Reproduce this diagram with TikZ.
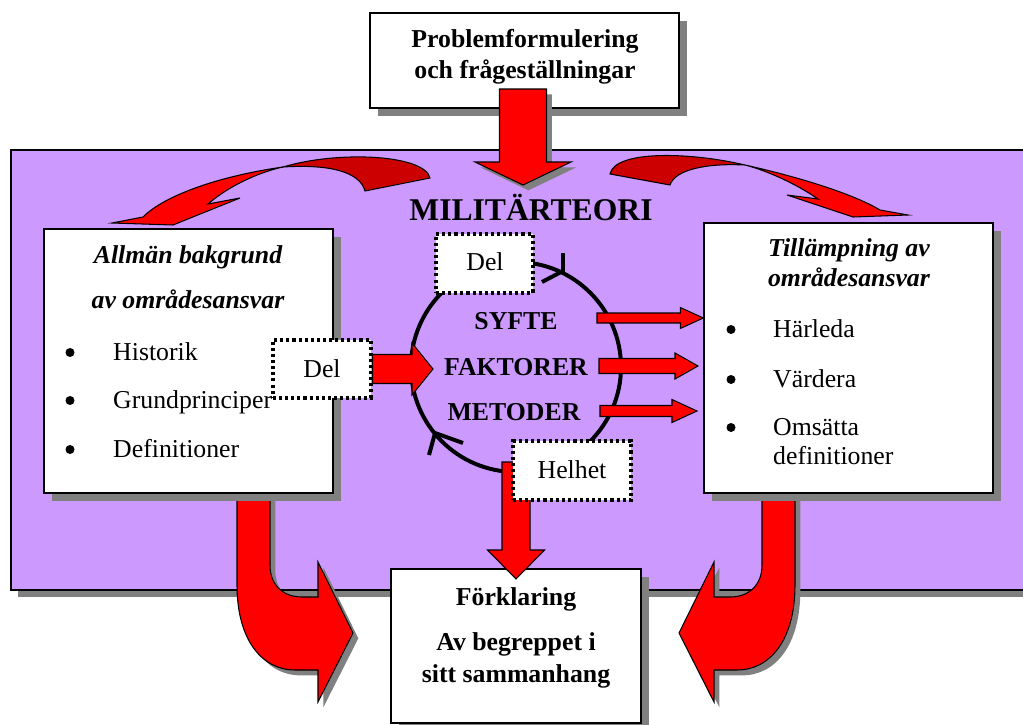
\documentclass[tikz,border=0pt]{standalone}
\usepackage{fontspec}
\setmainfont{Liberation Serif}
\usetikzlibrary{calc,shadows}

\definecolor{panelpurple}{HTML}{CC99FF}
\definecolor{arrowred}{HTML}{FF0000}
\definecolor{backred}{HTML}{CC0000}
\definecolor{shadowgray}{HTML}{808080}

\newdimen\pix \pix=0.03cm

% block arrow pointing right: [style]{from}{to}{shaft half}{head half}{head length}
\newcommand{\rblock}[6][]{%
  \draw[blk,#1] let \p1=(#2), \p2=(#3) in
    (\x1,\y1+#4*\pix) -- (\x2-#6*\pix,\y1+#4*\pix) -- (\x2-#6*\pix,\y1+#5*\pix)
    -- (\x2,\y1) -- (\x2-#6*\pix,\y1-#5*\pix) -- (\x2-#6*\pix,\y1-#4*\pix)
    -- (\x1,\y1-#4*\pix) -- cycle;}
% block arrow pointing down
\newcommand{\dblock}[6][]{%
  \draw[blk,#1] let \p1=(#2), \p2=(#3) in
    (\x1-#4*\pix,\y1) -- (\x1-#4*\pix,\y2+#6*\pix) -- (\x1-#5*\pix,\y2+#6*\pix)
    -- (\x1,\y2) -- (\x1+#5*\pix,\y2+#6*\pix) -- (\x1+#4*\pix,\y2+#6*\pix)
    -- (\x1+#4*\pix,\y1) -- cycle;}

\tikzset{
  box/.style={draw, line width=1.2pt, fill=white, inner sep=0pt,
    drop shadow={shadow xshift=0.24cm, shadow yshift=-0.24cm, fill=shadowgray, opacity=1}},
  delbox/.style={draw, fill=white, inner sep=0pt, line width=2.6pt,
    dash pattern=on 2.6pt off 2.6pt},
  blk/.style={draw, fill=arrowred, line width=0.9pt},
  blkshadow/.style={drop shadow={shadow xshift=0.16cm, shadow yshift=-0.16cm,
    fill=shadowgray, opacity=1}},
  ring/.style={line width=3.4pt},
  dot/.style={circle, fill=black, inner sep=0pt, minimum size=0.27cm},
  txt/.style={font=\fontsize{22}{26}\selectfont, inner sep=0pt, anchor=base},
  head/.style={txt, font=\fontsize{22}{26}\selectfont\bfseries},
  ihead/.style={txt, font=\fontsize{22}{26}\selectfont\bfseries\itshape},
  item/.style={txt, anchor=base west},
}

\begin{document}
\begin{tikzpicture}[x=0.03cm, y=-0.03cm]
  \useasboundingbox (0,0) rectangle (1023,725);
  \clip (0,0) rectangle (1023,725);

  % Purple panel
  \path[draw, line width=1.2pt, fill=panelpurple,
    drop shadow={shadow xshift=0.2cm, shadow yshift=-0.2cm, fill=shadowgray, opacity=1}]
    (11,150) rectangle (1040,590);

  % Problem box and its arrow
  \node[box, minimum width=9.27cm, minimum height=2.85cm] (problem) at (524.5,60.5) {};
  \node[head] (problem1) at (525,47) {Problemformulering};
  \node[head] (problem2) at (525,78) {och frågeställningar};
  \coordinate (topin) at (523,89);
  \coordinate (topout) at (523,185);
  \dblock[blkshadow]{topin}{topout}{23.5}{48}{23}

  \node[head, font=\fontsize{27}{30}\selectfont\bfseries] (teori) at (531,220) {MILITÄRTEORI};

  % Twisted arrows at the top
  \filldraw[fill=backred, line width=0.9pt]
    (283,167) .. controls (340,150) and (425,155) .. (430,178) -- (365,191)
    .. controls (360,172) and (330,164) .. (283,167) -- cycle;
  \filldraw[fill=arrowred, line width=0.9pt]
    (283,167) .. controls (220,176) and (165,195) .. (143,217) -- (112,223)
    -- (173,225) -- (240,198) -- (208,204)
    .. controls (230,185) and (260,172) .. (283,167) -- cycle;
  \filldraw[fill=backred, line width=0.9pt]
    (610,174) .. controls (615,150) and (690,152) .. (745,165)
    .. controls (705,163) and (675,170) .. (670,185) -- cycle;
  \filldraw[fill=arrowred, line width=0.9pt]
    (745,165) .. controls (790,175) and (850,192) .. (880,210) -- (908,215)
    -- (853,217) -- (787,195) -- (818,199)
    .. controls (795,183) and (765,170) .. (745,165) -- cycle;

  % Bent arrows at the bottom
  \draw[blk, blkshadow] (237,480) -- (237,585) .. controls (237,640) and (262,670) .. (295,670)
    -- (318,670) -- (318,702) -- (353,633) -- (318,562) -- (318,597) -- (302,597)
    .. controls (283,597) and (270,585) .. (270,565) -- (270,480) -- cycle;
  \draw[blk, blkshadow] (795,480) -- (795,585) .. controls (795,640) and (770,670) .. (737,670)
    -- (714,670) -- (714,702) -- (679,633) -- (714,562) -- (714,597) -- (730,597)
    .. controls (749,597) and (762,585) .. (762,565) -- (762,480) -- cycle;

  % Förklaring
  \node[box, minimum width=7.5cm, minimum height=4.62cm] (forklaring) at (516,646) {};
  \node[head] (forklaring1) at (516,605) {Förklaring};
  \node[head] (forklaring2) at (516,650) {Av begreppet i};
  \node[head] (forklaring3) at (516,682) {sitt sammanhang};

  % Left box
  \node[box, minimum width=8.67cm, minimum height=7.92cm] (bakgrund) at (188.5,361) {};
  \node[ihead] (bakgrund1) at (188,263) {Allmän bakgrund};
  \node[ihead] (bakgrund2) at (188,308) {av områdesansvar};
  \foreach \y/\t [count=\i] in {360/Historik, 408/Grundprinciper, 457/Definitioner} {
    \node[dot] (bbullet\i) at (70,\y-7.5) {};
    \node[item] (bitem\i) at (113,\y) {\t};
  }

  % Right box
  \node[box, minimum width=8.67cm, minimum height=8.1cm] (tillampning) at (848.5,358) {};
  \node[ihead] (tillampning1) at (849,256) {Tillämpning av};
  \node[ihead] (tillampning2) at (849,286) {områdesansvar};
  \foreach \y/\t [count=\i] in {337/Härleda, 387/Värdera, 435/Omsätta} {
    \node[dot] (tbullet\i) at (731,\y-7.5) {};
    \node[item] (titem\i) at (773,\y) {\t};
  }
  \node[item] (titem4) at (773,464) {definitioner};

  % Circle with its two barbs
  \draw[ring] (516,367) circle[radius=105];
  \draw[ring] (542,282) -- (563,271) -- (563,253);
  \draw[ring] (463,443) -- (435,433) -- (429,455);
  \node[head] (syfte) at (516,329) {SYFTE};
  \node[head] (faktorer) at (516,375) {FAKTORER};
  \node[head] (metoder) at (514,420) {METODER};

  % Arrow down to Förklaring, under the Helhet box
  \coordinate (helin) at (516,462);
  \coordinate (helout) at (516,579);
  \dblock{helin}{helout}{14}{28.5}{29}

  % Dotted boxes
  \node[delbox, minimum width=2.91cm, minimum height=1.77cm] (delT) at (484.5,263.5) {};
  \node[txt] (delTtext) at (485,270) {Del};
  \node[delbox, minimum width=2.94cm, minimum height=1.74cm] (delL) at (322,369) {};
  \node[txt] (delLtext) at (322,377) {Del};
  \node[delbox, minimum width=3.54cm, minimum height=1.77cm] (helhet) at (572,470.5) {};
  \node[txt] (helhettext) at (572,478) {Helhet};

  % Block arrows
  \coordinate (deltip) at (433,369);
  \rblock{delL.east}{deltip}{14.5}{26}{21}
  \coordinate (ut1) at (597,318);
  \rblock{ut1}{tillampning.west |- ut1}{5}{10.5}{23}
  \coordinate (ut2) at (599,366);
  \coordinate (ut2tip) at (698,366);
  \rblock{ut2}{ut2tip}{7.5}{13}{23}
  \coordinate (ut3) at (600,411);
  \coordinate (ut3tip) at (697,411);
  \rblock{ut3}{ut3tip}{5.5}{11.5}{25}
\end{tikzpicture}
\end{document}
